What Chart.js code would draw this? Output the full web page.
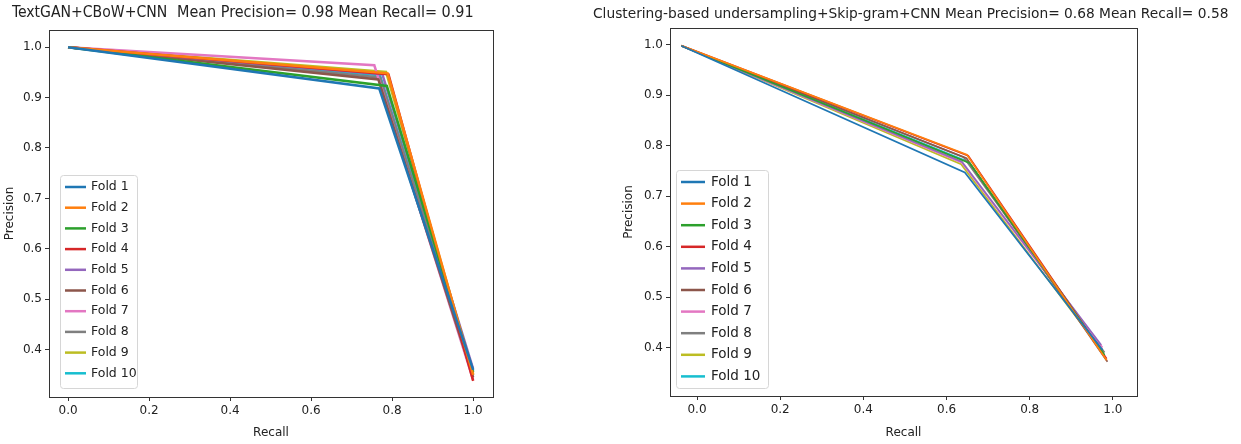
<!DOCTYPE html>
<html>
<head>
<meta charset="utf-8">
<script src="https://cdn.jsdelivr.net/npm/chart.js@4.4.1/dist/chart.umd.min.js"></script>
<style>
  html, body { margin: 0; padding: 0; background: #fff; }
  #wrap { position: relative; width: 1241px; height: 444px; overflow: hidden; }
  .box { position: absolute; top: 0; height: 444px; }
  .ttl { position: absolute; white-space: nowrap; color: #222; font-family: "DejaVu Sans", sans-serif; line-height: 1; }
</style>
</head>
<body>
<div id="wrap">
  <div class="box" style="left:0;width:620px"><canvas id="left"></canvas></div>
  <div class="box" style="left:620px;width:621px"><canvas id="right"></canvas></div>
  <span class="ttl" style="left:12px;top:5px;font-size:15.6px;font-family:'DejaVu Sans Condensed','DejaVu Sans',sans-serif">TextGAN+CBoW+CNN</span>
  <span class="ttl" style="left:177px;top:4px;font-size:16px;font-family:'DejaVu Sans Condensed','DejaVu Sans',sans-serif">Mean Precision= 0.98 Mean Recall= 0.91</span>
  <span class="ttl" style="left:593px;top:7px;font-size:13.75px;">Clustering-based undersampling+Skip-gram+CNN Mean Precision= 0.68 Mean Recall= 0.58</span>
</div>
<script>
// folds and matplotlib default colours
const foldLabels = ['Fold 1', 'Fold 2', 'Fold 3', 'Fold 4', 'Fold 5', 'Fold 6', 'Fold 7', 'Fold 8', 'Fold 9', 'Fold 10'];
const foldColors = ['#1f77b4', '#ff7f0e', '#2ca02c', '#d62728', '#9467bd', '#8c564b', '#e377c2', '#7f7f7f', '#bcbd22', '#17becf'];

const xTicks = [0.0, 0.2, 0.4, 0.6, 0.8, 1.0];
const yTicks = [0.4, 0.5, 0.6, 0.7, 0.8, 0.9, 1.0];

// left: TextGAN+CBoW+CNN
const leftStartRecall = [0, 0, 0, 0, 0, 0, 0, 0, 0, 0];
const leftStartPrecision = [1, 1, 1, 1, 1, 1, 1, 1, 1, 1];
const leftMidRecall = [0.768, 0.789, 0.787, 0.791, 0.776, 0.766, 0.756, 0.770, 0.785, 0.770];
const leftMidPrecision = [0.918, 0.948, 0.923, 0.946, 0.946, 0.936, 0.964, 0.940, 0.951, 0.944];
const leftEndRecall = [1, 1, 1, 1, 1, 1, 1, 1, 1, 1];
const leftEndPrecision = [0.360, 0.350, 0.355, 0.338, 0.362, 0.345, 0.340, 0.350, 0.352, 0.358];

// right: Clustering-based undersampling+Skip-gram+CNN
const rightStartRecall = [-0.038, -0.038, -0.038, -0.038, -0.038, -0.038, -0.038, -0.038, -0.038, -0.038];
const rightStartPrecision = [0.998, 0.998, 0.998, 0.998, 0.998, 0.998, 0.998, 0.998, 0.998, 0.998];
const rightMidRecall = [0.644, 0.649, 0.656, 0.652, 0.637, 0.648, 0.637, 0.641, 0.635, 0.652];
const rightMidPrecision = [0.747, 0.782, 0.765, 0.780, 0.768, 0.775, 0.766, 0.777, 0.763, 0.768];
const rightEndRecall = [0.975, 0.985, 0.980, 0.985, 0.972, 0.987, 0.975, 0.980, 0.978, 0.977];
const rightEndPrecision = [0.395, 0.375, 0.385, 0.378, 0.405, 0.372, 0.400, 0.390, 0.388, 0.392];

function buildDatasets(sr, sp, mr, mp, er, ep, width) {
    return foldLabels.map((label, i) => ({
        label: label,
        data: [{ x: sr[i], y: sp[i] }, { x: mr[i], y: mp[i] }, { x: er[i], y: ep[i] }],
        borderColor: foldColors[i],
        backgroundColor: foldColors[i],
        borderWidth: width,
        pointRadius: 0,
        tension: 0,
        fill: false
    }));
}

// spines on all four sides
const frame = {
    id: 'frame',
    afterDraw(chart) {
        const a = chart.chartArea, ctx = chart.ctx;
        ctx.save();
        ctx.strokeStyle = '#333';
        ctx.lineWidth = 1;
        ctx.strokeRect(Math.round(a.left) + 0.5, Math.round(a.top) + 0.5,
            Math.round(a.right - a.left), Math.round(a.bottom - a.top));
        ctx.restore();
    }
};

// legend box inside the plot, lower left
const boxLegend = {
    id: 'boxLegend',
    afterDraw(chart, args, o) {
        const a = chart.chartArea, ctx = chart.ctx;
        const x = a.left + o.dx, y = a.bottom - o.dy - o.h;
        ctx.save();
        ctx.fillStyle = 'rgba(255,255,255,0.85)';
        ctx.strokeStyle = '#d6d6d6';
        ctx.lineWidth = 1;
        ctx.beginPath();
        ctx.roundRect(x + 0.5, y + 0.5, o.w, o.h, 3);
        ctx.fill();
        ctx.stroke();
        ctx.font = o.font;
        ctx.textBaseline = 'middle';
        chart.data.datasets.forEach((ds, i) => {
            const cy = y + o.first + i * o.row;
            ctx.strokeStyle = ds.borderColor;
            ctx.lineWidth = 2.5;
            ctx.beginPath();
            ctx.moveTo(x + o.pad, cy);
            ctx.lineTo(x + o.pad + o.len, cy);
            ctx.stroke();
            ctx.fillStyle = '#222';
            ctx.fillText(ds.label, x + o.pad + o.len + o.gap, cy);
        });
        ctx.restore();
    }
};

function makeChart(id, datasets, cfg) {
    return new Chart(document.getElementById(id), {
        type: 'line',
        data: { datasets: datasets },
        options: {
            responsive: true,
            maintainAspectRatio: false,
            animation: false,
            layout: { padding: { top: cfg.top, right: cfg.right, left: cfg.left, bottom: 0 } },
            plugins: {
                legend: { display: false },
                tooltip: { enabled: false },
                boxLegend: cfg.legend
            },
            scales: {
                x: {
                    type: 'linear',
                    min: cfg.xmin, max: cfg.xmax,
                    afterBuildTicks: s => { s.ticks = xTicks.map(v => ({ value: v })); },
                    afterFit: s => { s.height = cfg.xh; },
                    ticks: { color: '#222', font: { family: 'DejaVu Sans', size: 12 }, padding: 3, maxRotation: 0,
                        callback: v => Number(v).toFixed(1) },
                    grid: { drawOnChartArea: false, drawTicks: true, tickLength: 4, color: '#333' },
                    border: { display: false },
                    title: { display: true, text: 'Recall', color: '#222', font: { family: 'DejaVu Sans', size: 12 }, padding: { top: 0, bottom: 4 } }
                },
                y: {
                    type: 'linear',
                    min: cfg.ymin, max: cfg.ymax,
                    afterBuildTicks: s => { s.ticks = yTicks.map(v => ({ value: v })); },
                    afterFit: s => { s.width = cfg.yw; },
                    ticks: { color: '#222', font: { family: 'DejaVu Sans', size: 12 }, padding: 3,
                        callback: v => Number(v).toFixed(1) },
                    grid: { drawOnChartArea: false, drawTicks: true, tickLength: 4, color: '#333' },
                    border: { display: false },
                    title: { display: true, text: 'Precision', color: '#222', font: { family: 'DejaVu Sans', size: 12 }, padding: { top: 0, bottom: 0 } }
                }
            }
        },
        plugins: [frame, boxLegend]
    });
}

makeChart('left',
    buildDatasets(leftStartRecall, leftStartPrecision, leftMidRecall, leftMidPrecision, leftEndRecall, leftEndPrecision, 2.5),
    { top: 30, right: 127, left: 3, xh: 47, yw: 46, xmin: -0.047, xmax: 1.049, ymin: 0.306, ymax: 1.034,
      legend: { dx: 11, dy: 9, w: 77, h: 213, first: 12, row: 20.7, pad: 5, len: 21, gap: 5, font: '12.5px "DejaVu Sans"' } });

makeChart('right',
    buildDatasets(rightStartRecall, rightStartPrecision, rightMidRecall, rightMidPrecision, rightEndRecall, rightEndPrecision, 1.7),
    { top: 28, right: 104, left: 2, xh: 48, yw: 48, xmin: -0.065, xmax: 1.058, ymin: 0.304, ymax: 1.033,
      legend: { dx: 6, dy: 8, w: 92, h: 218, first: 12, row: 21.6, pad: 5, len: 24, gap: 6, font: '13.5px "DejaVu Sans"' } });
</script>
</body>
</html>
